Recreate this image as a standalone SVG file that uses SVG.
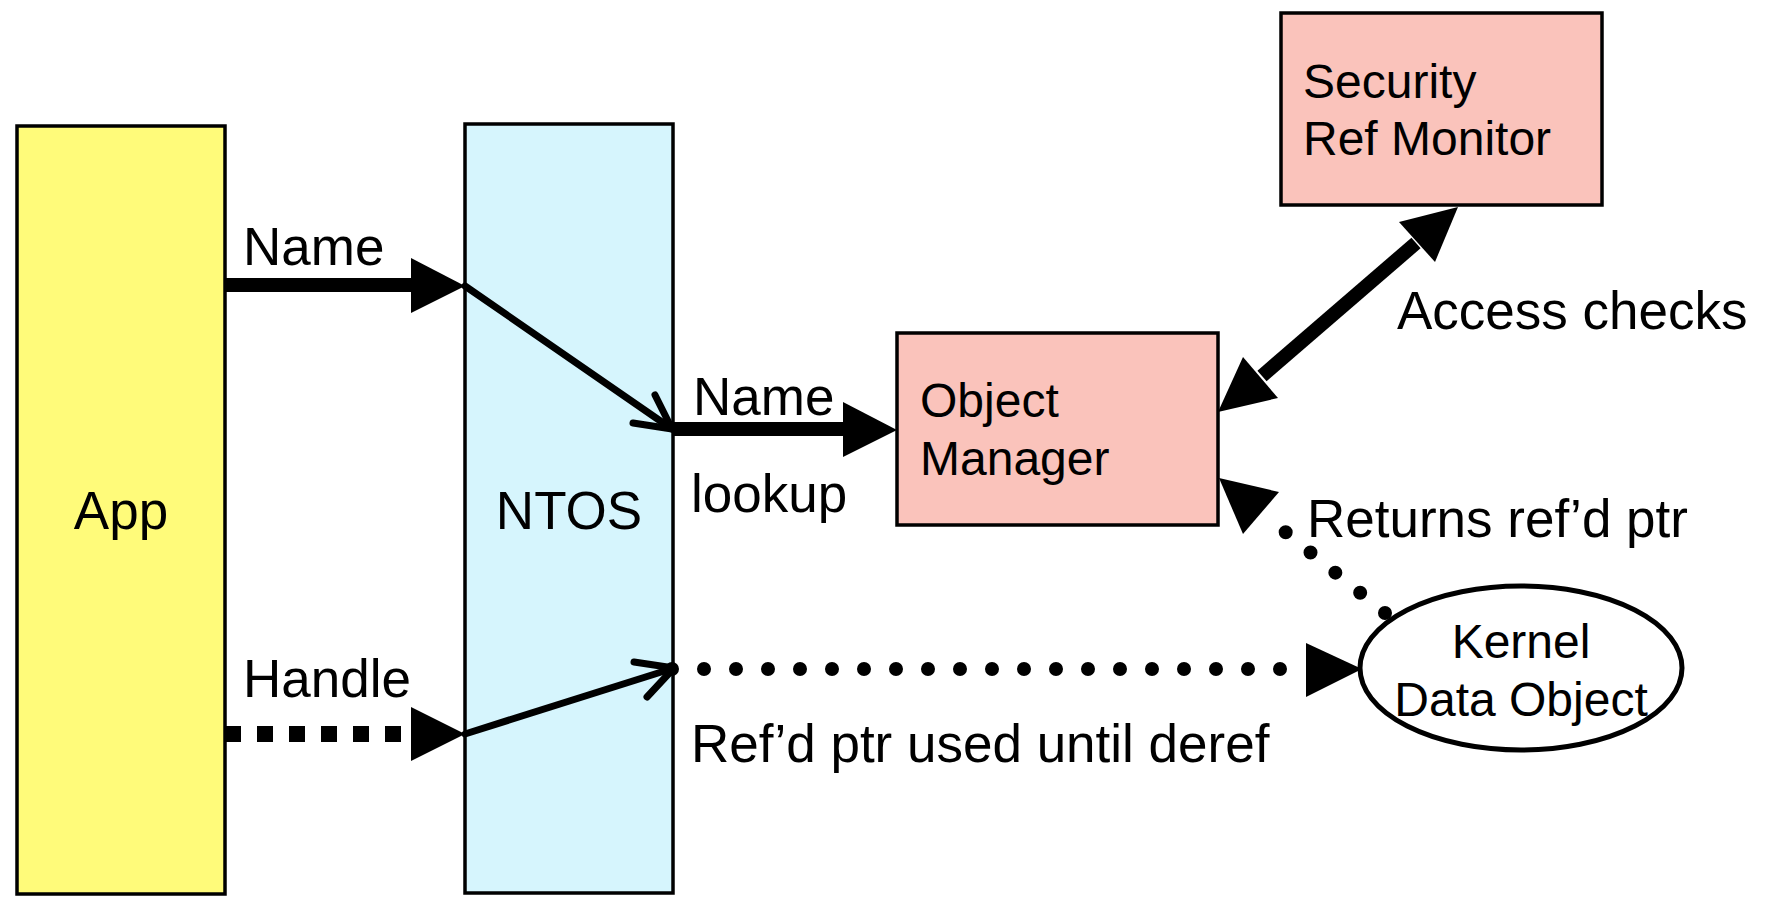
<svg xmlns="http://www.w3.org/2000/svg" width="1765" height="897" viewBox="0 0 1765 897">
  <style>
    text { font-family: "Liberation Sans", Arial, sans-serif; fill: #000; }
    .lbl { font-size: 53px; }
    .box-txt { font-size: 48px; }
    .box { stroke: #000; stroke-width: 3.5; }
    .thick { stroke: #000; stroke-width: 14; fill: none; }
    .thin { stroke: #000; stroke-width: 7; fill: none; stroke-linecap: round; stroke-linejoin: round; }
    .dots { stroke: #000; stroke-width: 14; fill: none; stroke-linecap: round; stroke-dasharray: 0 32; }
    .squares { stroke: #000; stroke-width: 16; fill: none; stroke-dasharray: 16 16; }
    .head { fill: #000; }
  </style>
  <rect width="1765" height="897" fill="#fff"/>

  <g id="app">
    <rect class="box" x="17" y="126" width="208" height="768" fill="#FFFB7A"/>
    <text class="lbl" x="121" y="529" text-anchor="middle">App</text>
  </g>

  <g id="ntos">
    <rect class="box" x="465" y="124" width="208" height="769" fill="#D6F5FD"/>
    <text class="lbl" x="569" y="529" text-anchor="middle">NTOS</text>
  </g>

  <g id="object-manager">
    <rect class="box" x="897" y="333" width="321" height="192" fill="#FAC3BB"/>
    <text class="box-txt" x="920" y="417">Object</text>
    <text class="box-txt" x="920" y="475">Manager</text>
  </g>

  <g id="security-ref-monitor">
    <rect class="box" x="1281" y="13" width="321" height="192" fill="#FAC3BB"/>
    <text class="box-txt" x="1303" y="98">Security</text>
    <text class="box-txt" x="1303" y="155">Ref Monitor</text>
  </g>

  <g id="kernel-data-object">
    <ellipse cx="1521" cy="668" rx="161" ry="82" fill="#fff" stroke="#000" stroke-width="5"/>
    <text class="box-txt" x="1521" y="658" text-anchor="middle">Kernel</text>
    <text class="box-txt" x="1521" y="716" text-anchor="middle">Data Object</text>
  </g>

  <g id="connectors">
    <!-- App -> NTOS: Name -->
    <line class="thick" x1="225" y1="285" x2="412" y2="285"/>
    <polygon class="head" points="411,258 411,313 465,286"/>
    <!-- name passed across NTOS -->
    <line class="thin" x1="465" y1="286" x2="672" y2="429"/>
    <polyline class="thin" points="655,395 672,429 633,423"/>
    <!-- NTOS -> Object Manager: Name lookup -->
    <line class="thick" x1="672" y1="429" x2="844" y2="429"/>
    <polygon class="head" points="843,402 843,457 897,430"/>

    <!-- App -> NTOS: Handle -->
    <line class="squares" x1="225" y1="734" x2="401" y2="734"/>
    <polygon class="head" points="411,707 411,761 465,734"/>
    <line class="thin" x1="465" y1="734" x2="674" y2="668"/>
    <polyline class="thin" points="634,662 674,668 647,697"/>

    <!-- NTOS -> Kernel Data Object: referenced pointer -->
    <line class="dots" x1="672" y1="669" x2="1282" y2="669"/>
    <polygon class="head" points="1306,643 1306,697 1362,669"/>

    <!-- Kernel Data Object -> Object Manager: returns referenced pointer -->
    <line class="dots" x1="1385" y1="613" x2="1262" y2="513"/>
    <polygon class="head" points="1219,478 1279,492 1243,534"/>

    <!-- Object Manager <-> Security Ref Monitor: access checks -->
    <line class="thick" stroke-width="13" x1="1262" y1="376" x2="1416" y2="243"/>
    <polygon class="head" points="1458,207 1399,222 1435,262"/>
    <polygon class="head" points="1218,412 1243,357 1278,398"/>
  </g>

  <g id="labels">
    <text class="lbl" x="243" y="265">Name</text>
    <text class="lbl" x="243" y="697">Handle</text>
    <text class="lbl" x="693" y="415">Name</text>
    <text class="lbl" x="691" y="512">lookup</text>
    <text class="lbl" x="1397" y="329">Access checks</text>
    <text class="lbl" x="1307" y="537">Returns ref’d ptr</text>
    <text class="lbl" x="691" y="762">Ref’d ptr used until deref</text>
  </g>
</svg>
